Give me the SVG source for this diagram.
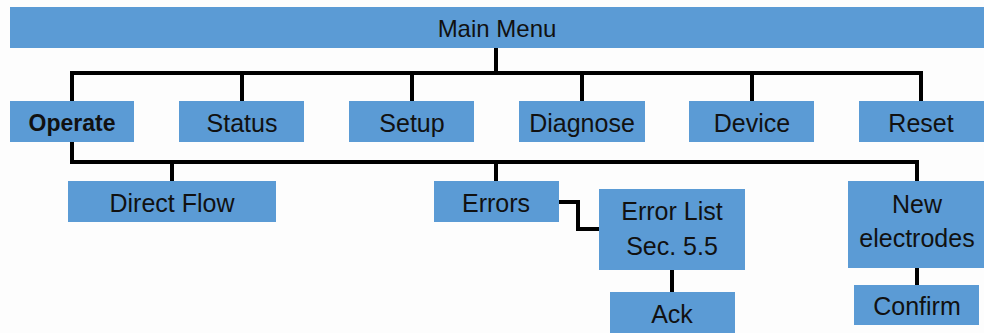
<svg xmlns="http://www.w3.org/2000/svg" width="984" height="333" viewBox="0 0 984 333">
  <style>
    .box { fill: #5b9bd5; }
    .lbl { font-family: "Liberation Sans", Arial, sans-serif; font-size: 25px; fill: #111; text-anchor: middle; }
    .title { font-size: 24px; }
    .bold { font-weight: bold; font-size: 23px; }
    .wire { fill: none; stroke: #000; stroke-width: 4; stroke-linejoin: miter; stroke-linecap: square; }
  </style>
  <rect width="984" height="333" fill="#fdfdfd"/>

  <!-- connectors -->
  <g id="connectors">
    <path class="wire" d="M496 48 V73 M72 73 H921 M72 73 V101 M242 73 V101 M412 73 V101 M582 73 V101 M752 73 V101 M921 73 V101"/>
    <path class="wire" d="M72 142 V162 H917 V181 M172 162 V181 M496 162 V181"/>
    <path class="wire" d="M559 202 H578 V229 H599"/>
    <path class="wire" d="M672 270 V292"/>
    <path class="wire" d="M917 268 V285"/>
  </g>

  <g id="main-menu">
    <rect class="box" x="10" y="7" width="974" height="41"/>
    <text class="lbl title" x="497" y="37">Main Menu</text>
  </g>

  <g id="operate">
    <rect class="box" x="10" y="101" width="124" height="41"/>
    <text class="lbl bold" x="72" y="131">Operate</text>
  </g>
  <g id="status">
    <rect class="box" x="179" y="101" width="125" height="41"/>
    <text class="lbl" x="242" y="132">Status</text>
  </g>
  <g id="setup">
    <rect class="box" x="349" y="101" width="125" height="41"/>
    <text class="lbl" x="412" y="132">Setup</text>
  </g>
  <g id="diagnose">
    <rect class="box" x="519" y="101" width="126" height="41"/>
    <text class="lbl" x="582" y="132">Diagnose</text>
  </g>
  <g id="device">
    <rect class="box" x="689" y="101" width="125" height="41"/>
    <text class="lbl" x="752" y="132">Device</text>
  </g>
  <g id="reset">
    <rect class="box" x="859" y="101" width="125" height="41"/>
    <text class="lbl" x="921" y="132">Reset</text>
  </g>

  <g id="direct-flow">
    <rect class="box" x="68" y="181" width="208" height="41"/>
    <text class="lbl" x="172" y="212">Direct Flow</text>
  </g>
  <g id="errors">
    <rect class="box" x="434" y="181" width="125" height="41"/>
    <text class="lbl" x="496" y="212">Errors</text>
  </g>
  <g id="error-list">
    <rect class="box" x="599" y="189" width="146" height="81"/>
    <text class="lbl" x="672" y="220">Error List</text>
    <text class="lbl" x="672" y="255">Sec. 5.5</text>
  </g>
  <g id="ack">
    <rect class="box" x="610" y="292" width="125" height="41"/>
    <text class="lbl" x="672" y="323">Ack</text>
  </g>
  <g id="new-electrodes">
    <rect class="box" x="848" y="181" width="136" height="87"/>
    <text class="lbl" x="917" y="213">New</text>
    <text class="lbl" x="917" y="247">electrodes</text>
  </g>
  <g id="confirm">
    <rect class="box" x="854" y="285" width="125" height="40"/>
    <text class="lbl" x="917" y="315">Confirm</text>
  </g>
</svg>
